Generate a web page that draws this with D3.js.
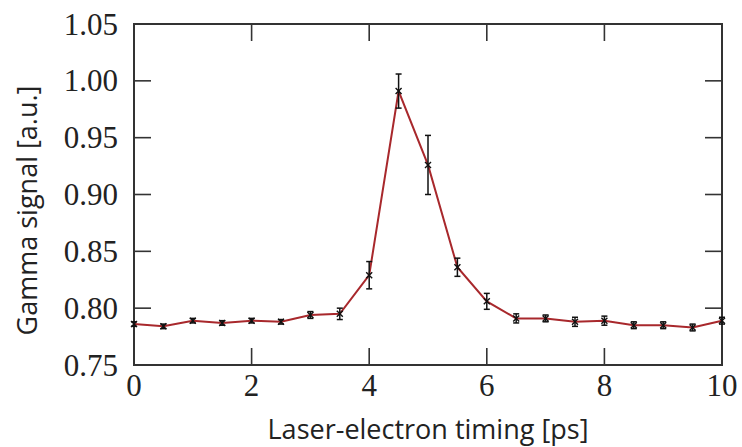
<!DOCTYPE html>
<html>
<head>
<meta charset="utf-8">
<script src="https://cdn.jsdelivr.net/npm/d3@7"></script>
<style>
  body { margin: 0; background: #fff; }
  svg { display: block; }
</style>
</head>
<body>
<svg id="chart" width="742" height="447"></svg>
<script>
// Data
const timing = [0, 0.5, 1, 1.5, 2, 2.5, 3, 3.5, 4, 4.5, 5, 5.5, 6, 6.5, 7, 7.5, 8, 8.5, 9, 9.5, 10];
const signal = [0.786, 0.784, 0.789, 0.787, 0.789, 0.788, 0.794, 0.795, 0.829, 0.991, 0.926, 0.836, 0.806, 0.791, 0.791, 0.788, 0.789, 0.785, 0.785, 0.783, 0.789];
const errors = [0.002, 0.002, 0.002, 0.002, 0.002, 0.002, 0.003, 0.005, 0.012, 0.015, 0.026, 0.008, 0.007, 0.004, 0.003, 0.004, 0.004, 0.003, 0.003, 0.003, 0.003];
const xTicks = [0, 2, 4, 6, 8, 10];
const yTicks = [0.75, 0.80, 0.85, 0.90, 0.95, 1.00, 1.05];

const pts = timing.map((t, i) => ({ t: t, v: signal[i], e: errors[i] }));

const svg = d3.select("#chart");
const plotL = 134, plotR = 722, plotT = 24, plotB = 365;
const tickLen = 17;

const x = d3.scaleLinear().domain([0, 10]).range([plotL, plotR]);
const y = d3.scaleLinear().domain([0.75, 1.05]).range([plotB, plotT]);

const frameColor = "#333";

// ticks on all four sides, pointing inward
const g = svg.append("g").attr("stroke", frameColor).attr("stroke-width", 1.6);
g.selectAll(".xtb").data(xTicks).join("line").attr("class", "xtb")
    .attr("x1", d => x(d)).attr("x2", d => x(d))
    .attr("y1", plotB).attr("y2", plotB - tickLen);
g.selectAll(".xtt").data(xTicks).join("line").attr("class", "xtt")
    .attr("x1", d => x(d)).attr("x2", d => x(d))
    .attr("y1", plotT).attr("y2", plotT + tickLen);
g.selectAll(".ytl").data(yTicks).join("line").attr("class", "ytl")
    .attr("x1", plotL).attr("x2", plotL + tickLen)
    .attr("y1", d => y(d)).attr("y2", d => y(d));
g.selectAll(".ytr").data(yTicks).join("line").attr("class", "ytr")
    .attr("x1", plotR).attr("x2", plotR - tickLen)
    .attr("y1", d => y(d)).attr("y2", d => y(d));

// frame
svg.append("rect")
    .attr("x", plotL).attr("y", plotT)
    .attr("width", plotR - plotL).attr("height", plotB - plotT)
    .attr("fill", "none").attr("stroke", frameColor).attr("stroke-width", 2);

// tick labels
svg.append("g").selectAll("text").data(xTicks).join("text")
    .attr("x", d => x(d)).attr("y", 396)
    .attr("text-anchor", "middle")
    .attr("font-family", "Liberation Serif, DejaVu Serif, serif")
    .attr("font-size", 31).attr("fill", "#222")
    .text(d => d);
svg.append("g").selectAll("text").data(yTicks).join("text")
    .attr("x", 118).attr("y", d => y(d))
    .attr("dy", "0.34em")
    .attr("text-anchor", "end")
    .attr("font-family", "Liberation Serif, DejaVu Serif, serif")
    .attr("font-size", 31).attr("fill", "#222")
    .text(d => d3.format(".2f")(d));

// axis labels
svg.append("text")
    .attr("x", (plotL + plotR) / 2 + 0).attr("y", 439)
    .attr("text-anchor", "middle")
    .attr("font-family", "Open Sans, DejaVu Sans, sans-serif")
    .attr("font-size", 27).attr("fill", "#222")
    .text("Laser-electron timing [ps]");
svg.append("text")
    .attr("transform", "translate(37," + ((plotT + plotB) / 2 + 16) + ") rotate(-90)")
    .attr("text-anchor", "middle")
    .attr("font-family", "Open Sans, DejaVu Sans, sans-serif")
    .attr("font-size", 27).attr("fill", "#222")
    .text("Gamma signal [a.u.]");

// data line
const line = d3.line().x(d => x(d.t)).y(d => y(d.v));
svg.append("path").datum(pts)
    .attr("d", line)
    .attr("fill", "none")
    .attr("stroke", "#a8282c")
    .attr("stroke-width", 2);

// error bars
const eb = svg.append("g").attr("stroke", "#111").attr("stroke-width", 1.5);
eb.selectAll(".bar").data(pts).join("line").attr("class", "bar")
    .attr("x1", d => x(d.t)).attr("x2", d => x(d.t))
    .attr("y1", d => y(d.v - d.e)).attr("y2", d => y(d.v + d.e));
eb.selectAll(".capt").data(pts).join("line").attr("class", "capt")
    .attr("x1", d => x(d.t) - 3).attr("x2", d => x(d.t) + 3)
    .attr("y1", d => y(d.v + d.e)).attr("y2", d => y(d.v + d.e));
eb.selectAll(".capb").data(pts).join("line").attr("class", "capb")
    .attr("x1", d => x(d.t) - 3).attr("x2", d => x(d.t) + 3)
    .attr("y1", d => y(d.v - d.e)).attr("y2", d => y(d.v - d.e));

// x markers
const mk = svg.append("g").attr("stroke", "#111").attr("stroke-width", 1.4);
mk.selectAll("path").data(pts).join("path")
    .attr("d", d => {
      const cx = x(d.t), cy = y(d.v), s = 3;
      return "M" + (cx - s) + "," + (cy - s) + "L" + (cx + s) + "," + (cy + s) +
             "M" + (cx - s) + "," + (cy + s) + "L" + (cx + s) + "," + (cy - s);
    });
</script>
</body>
</html>
